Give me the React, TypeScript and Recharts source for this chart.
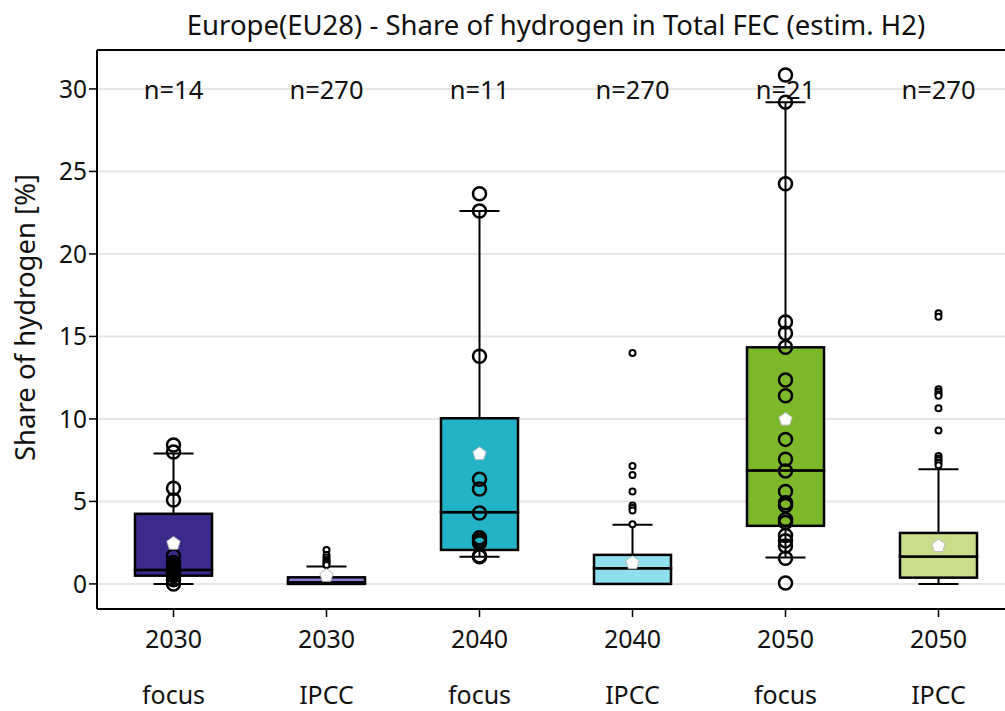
import React from 'react';
import { ComposedChart, Bar, Scatter, XAxis, YAxis, CartesianGrid, ReferenceLine, Cell } from 'recharts';

const categories = ['2030 focus', '2030 IPCC', '2040 focus', '2040 IPCC', '2050 focus', '2050 IPCC'];
const years = ['2030', '2030', '2040', '2040', '2050', '2050'];
const groups = ['focus', 'IPCC', 'focus', 'IPCC', 'focus', 'IPCC'];
const sampleLabels = ['n=14', 'n=270', 'n=11', 'n=270', 'n=21', 'n=270'];
const boxColors = ['#3b2a8b', '#8a7ed6', '#23b3c7', '#8ee0ee', '#7db82b', '#c9dd8b'];

const whiskerLow = [0, 0, 1.64, 0, 1.6, 0];
const q1 = [0.5, 0, 2.06, 0, 3.52, 0.38];
const median = [0.85, 0.1, 4.35, 0.95, 6.88, 1.66];
const q3 = [4.25, 0.4, 10.04, 1.76, 14.34, 3.09];
const whiskerHigh = [7.9, 1.05, 22.6, 3.58, 29.2, 6.95];
const means = [2.45, 0.5, 7.88, 1.27, 9.97, 2.3];

const focus2030 = [8.42, 8.0, 5.8, 5.09, 1.7, 1.3, 1.15, 1.0, 0.85, 0.7, 0.6, 0.5, 0.25, 0.0];
const ipcc2030Outliers = [2.05, 1.75, 1.6, 1.45, 1.35, 1.25, 1.15];
const focus2040 = [23.65, 22.6, 13.8, 6.35, 5.75, 4.3, 2.8, 2.65, 2.5, 1.7, 1.64];
const ipcc2040Outliers = [14.0, 7.15, 6.6, 5.6, 4.75, 4.6, 4.45, 3.62];
const focus2050 = [30.85, 29.2, 24.25, 15.87, 15.19, 14.34, 12.36, 11.4, 8.76, 7.56, 6.85, 5.6, 4.92, 4.75, 3.9, 3.73, 2.94, 2.62, 2.3, 1.56, 0.06];
const ipcc2050Outliers = [16.4, 16.2, 11.8, 11.65, 11.5, 11.4, 10.65, 9.3, 7.75, 7.6, 7.5, 7.35, 7.2];

const yTicks = [0, 5, 10, 15, 20, 25, 30];
const Y_MIN = -1.52;
const Y_MAX = 32.36;
const N_LABEL_Y = 30;

const FONT = '"Noto Sans", "DejaVu Sans", sans-serif';

const boxData = categories.map((cat, i) => ({
  cat,
  base: whiskerLow[i],
  lowWhisk: q1[i] - whiskerLow[i],
  lowBox: median[i] - q1[i],
  highBox: q3[i] - median[i],
  highWhisk: whiskerHigh[i] - q3[i],
}));

const focusPoints = [
  ...focus2030.map((y) => ({ x: 0, y })),
  ...focus2040.map((y) => ({ x: 2, y })),
  ...focus2050.map((y) => ({ x: 4, y })),
];
const ipccPoints = [
  ...ipcc2030Outliers.map((y) => ({ x: 1, y })),
  ...ipcc2040Outliers.map((y) => ({ x: 3, y })),
  ...ipcc2050Outliers.map((y) => ({ x: 5, y })),
];
const meanPoints = means.map((y, i) => ({ x: i, y }));
const nLabelPoints = sampleLabels.map((label, i) => ({ x: i, y: N_LABEL_Y, label }));

const Empty = () => null;

const LowerWhisker = (props: any) => {
  const { x, y, width, height } = props;
  const cx = x + width / 2;
  const yb = y + height;
  return (
    <g>
      <line x1={cx} x2={cx} y1={y} y2={yb} stroke="#000" strokeWidth={2} />
      <line x1={cx - 20} x2={cx + 20} y1={yb} y2={yb} stroke="#000" strokeWidth={2} />
    </g>
  );
};

const UpperWhisker = (props: any) => {
  const { x, y, width, height } = props;
  const cx = x + width / 2;
  const yb = y + height;
  return (
    <g>
      <line x1={cx} x2={cx} y1={y} y2={yb} stroke="#000" strokeWidth={2} />
      <line x1={cx - 20} x2={cx + 20} y1={y} y2={y} stroke="#000" strokeWidth={2} />
    </g>
  );
};

const BoxPart = (props: any) => {
  const { x, y, width, height, fill } = props;
  return <rect x={x} y={y} width={width} height={Math.max(height, 0)} fill={fill} stroke="#000" strokeWidth={2.5} />;
};

const FocusCircle = (props: any) => {
  const { cx, cy } = props;
  return <circle cx={cx} cy={cy} r={6.5} fill="none" stroke="#000" strokeWidth={2.5} />;
};

const IpccDot = (props: any) => {
  const { cx, cy } = props;
  return <circle cx={cx} cy={cy} r={3} fill="#fff" stroke="#000" strokeWidth={2} />;
};

const MeanPentagon = (props: any) => {
  const { cx, cy } = props;
  const r = 7;
  const pts = [0, 1, 2, 3, 4]
    .map((k) => {
      const a = -Math.PI / 2 + (k * 2 * Math.PI) / 5;
      return `${cx + r * Math.cos(a)},${cy + r * Math.sin(a)}`;
    })
    .join(' ');
  return <polygon points={pts} fill="#fff" stroke="#bbb" strokeWidth={1} />;
};

const NLabel = (props: any) => {
  const { cx, cy, payload } = props;
  return (
    <text x={cx} y={cy} textAnchor="middle" dominantBaseline="central" fontSize={25.5} fontFamily={FONT} fill="#111">
      {payload.label}
    </text>
  );
};

const XTick = (props: any) => {
  const { x, y, payload } = props;
  const i = categories.indexOf(payload.value);
  return (
    <g>
      <text x={x} y={y + 19} textAnchor="middle" dominantBaseline="central" fontSize={25} fontFamily={FONT} fill="#111">
        {years[i]}
      </text>
      <text x={x} y={y + 75} textAnchor="middle" dominantBaseline="central" fontSize={25} fontFamily={FONT} fill="#111">
        {groups[i]}
      </text>
    </g>
  );
};

const YLabel = (props: any) => {
  const { viewBox } = props;
  const cx = 24;
  const cy = viewBox.y + viewBox.height / 2 - 12;
  return (
    <text
      x={cx}
      y={cy}
      textAnchor="middle"
      dominantBaseline="central"
      transform={`rotate(-90, ${cx}, ${cy})`}
      fontSize={27.5}
      fontFamily={FONT}
      fill="#111"
    >
      Share of hydrogen [%]
    </text>
  );
};

export default function App() {
  return (
    <div style={{ position: 'absolute', left: 0, top: 0, width: 1005, height: 711, overflow: 'hidden', background: '#fff' }}>
      <div
        style={{
          position: 'absolute',
          left: 97,
          width: 918,
          top: 7,
          textAlign: 'center',
          fontFamily: FONT,
          fontSize: 27.5,
          color: '#111',
          lineHeight: '36px',
          whiteSpace: 'nowrap',
        }}
      >
        Europe(EU28) - Share of hydrogen in Total FEC (estim. H2)
      </div>
      <ComposedChart width={1030} height={711} data={boxData} margin={{ top: 50, right: 15, bottom: 0, left: 0 }}>
        <CartesianGrid horizontal vertical={false} stroke="#e6e6e6" strokeWidth={2} />
        <XAxis
          dataKey="cat"
          type="category"
          height={102}
          tick={<XTick />}
          tickSize={8}
          axisLine={{ stroke: '#000', strokeWidth: 2 }}
          tickLine={{ stroke: '#000', strokeWidth: 1.5 }}
          interval={0}
        />
        <XAxis xAxisId="num" dataKey="x" type="number" domain={[-0.5, 5.5]} hide allowDataOverflow />
        <YAxis
          type="number"
          domain={[Y_MIN, Y_MAX]}
          ticks={yTicks}
          allowDataOverflow
          width={97}
          tickSize={8}
          axisLine={{ stroke: '#000', strokeWidth: 2 }}
          tickLine={{ stroke: '#000', strokeWidth: 1.5 }}
          tick={{ fontSize: 24.5, fontFamily: FONT, fill: '#111' }}
          label={<YLabel />}
        />
        <ReferenceLine y={Y_MAX} stroke="#000" strokeWidth={2} />
        <Bar dataKey="base" stackId="box" barSize={77} shape={<Empty />} isAnimationActive={false} />
        <Bar dataKey="lowWhisk" stackId="box" barSize={77} shape={<LowerWhisker />} isAnimationActive={false} />
        <Bar dataKey="lowBox" stackId="box" barSize={77} shape={<BoxPart />} isAnimationActive={false}>
          {boxColors.map((c, i) => (
            <Cell key={i} fill={c} />
          ))}
        </Bar>
        <Bar dataKey="highBox" stackId="box" barSize={77} shape={<BoxPart />} isAnimationActive={false}>
          {boxColors.map((c, i) => (
            <Cell key={i} fill={c} />
          ))}
        </Bar>
        <Bar dataKey="highWhisk" stackId="box" barSize={77} shape={<UpperWhisker />} isAnimationActive={false} />
        <Scatter data={nLabelPoints} dataKey="y" xAxisId="num" shape={<NLabel />} isAnimationActive={false} />
        <Scatter data={ipccPoints} dataKey="y" xAxisId="num" shape={<IpccDot />} isAnimationActive={false} />
        <Scatter data={focusPoints} dataKey="y" xAxisId="num" shape={<FocusCircle />} isAnimationActive={false} />
        <Scatter data={meanPoints} dataKey="y" xAxisId="num" shape={<MeanPentagon />} isAnimationActive={false} />
      </ComposedChart>
    </div>
  );
}
